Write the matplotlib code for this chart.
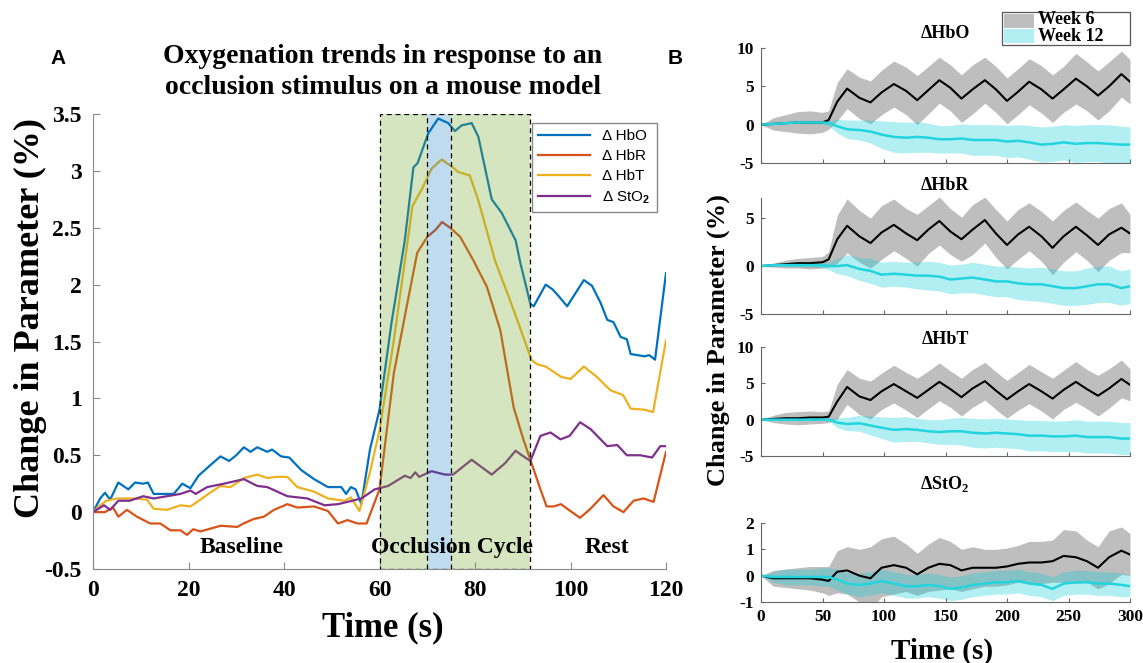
import numpy as np
import matplotlib
matplotlib.use('Agg')
import matplotlib.pyplot as plt
from matplotlib.patches import Rectangle

plt.rcParams['font.family'] = ['Liberation Serif', 'DejaVu Serif']
plt.rcParams['font.weight'] = 'bold'
plt.rcParams['axes.unicode_minus'] = False
plt.rcParams['mathtext.fontset'] = 'custom'
plt.rcParams['mathtext.rm'] = 'Liberation Serif:bold'
plt.rcParams['mathtext.sf'] = 'Liberation Sans'

W, H = 1143, 663

# ---------------- panel A data (time in s, change in %) ----------------
t_hbo = [0, 1.5, 2.5, 3.6, 5.3, 7.4, 8.8, 10.5, 11.5, 12.7, 16.9, 18.7, 20.4, 22.1, 24.5, 26.7,
         28.5, 30, 31.6, 33, 34.4, 36.5, 37.5, 39.4, 41.1, 43.6, 46.3, 49.2, 52, 53, 54, 55, 56.2,
         58, 60, 62.5, 65.3, 67.1, 68, 70.2, 72.3, 74.4, 75.8, 77.2, 79.3, 80.7, 83.5, 85.6, 88.5,
         89.5, 91.6, 92.3, 94.8, 96.2, 97.5, 99.3, 102.8, 104.5, 106.3, 107.7, 109, 110.5, 111.8,
         112.6, 115.5, 116.5, 117.7, 120]
hbo = [0, 0.12, 0.17, 0.11, 0.26, 0.2, 0.26, 0.25, 0.26, 0.16, 0.16, 0.25, 0.21, 0.32, 0.41, 0.49,
       0.45, 0.5, 0.57, 0.53, 0.57, 0.53, 0.55, 0.49, 0.48, 0.37, 0.29, 0.22, 0.22, 0.16, 0.22, 0.2, 0.07,
       0.55, 0.9, 1.66, 2.39, 3.03, 3.07, 3.33, 3.46, 3.42, 3.35, 3.4, 3.42, 3.3, 2.75, 2.63, 2.39,
       2.19, 1.83, 1.81, 2.0, 1.96, 1.9, 1.81, 2.04, 1.99, 1.84, 1.69, 1.67, 1.54, 1.52,
       1.39, 1.37, 1.38, 1.34, 2.1]

t_hbr = [0, 2.5, 4.2, 5.3, 7.1, 9.2, 12, 14.1, 16.2, 18.3, 19.7, 21, 22.5, 26.7, 30.2, 31.5, 33.7,
         35.8, 37.9, 40.7, 42.8, 46.3, 49.2, 51.3, 53.3, 55.4, 57.3, 60, 63, 65.8, 67.9, 70, 71.7,
         73.1, 74.8, 76.9, 79.7, 82.5, 85.3, 88.1, 90.2, 91.6, 93.7, 95, 96.5, 98, 99.3, 102, 104.2,
         106.9, 109, 111.1, 113.2, 115.3, 117.4, 120]
hbr = [0, 0, 0.04, -0.04, 0.02, -0.04, -0.1, -0.1, -0.16, -0.16, -0.2, -0.15, -0.17, -0.12, -0.13, -0.1, -0.06,
       -0.04, 0.02, 0.07, 0.04, 0.05, 0.01, -0.1, -0.07, -0.1, -0.1, 0.2, 1.22, 1.83, 2.28, 2.42, 2.48,
       2.55, 2.5, 2.42, 2.21, 1.98, 1.6, 0.92, 0.63, 0.46, 0.2, 0.05, 0.05, 0.07, 0.03, -0.05, 0.03,
       0.15, 0.05, 0.0, 0.1, 0.12, 0.09, 0.53]

t_hbt = [0, 1.5, 2.8, 5, 8.5, 11.3, 12.7, 15.5, 18.3, 20.4, 22.5, 24.5, 26.7, 28.8, 31.6, 34.4, 36.5,
         38.5, 40.7, 42.8, 46.3, 49.2, 52.7, 54, 55.8, 58, 60, 63, 66.9, 69, 70.9, 73, 75.1, 76.5, 78.9,
         80.7, 84.2, 87, 89.1, 91.8, 93, 94.8, 98, 100, 102.8, 105.5, 108.4, 111, 112.6, 115.5, 117.3, 120]
hbt = [0, 0.06, 0.1, 0.12, 0.12, 0.11, 0.03, 0.02, 0.06, 0.05, 0.11, 0.17, 0.23, 0.22, 0.3, 0.33, 0.3,
       0.31, 0.31, 0.22, 0.18, 0.12, 0.1, 0.13, 0.01, 0.35, 0.72, 1.51, 2.69, 2.85, 3.02, 3.1, 3.04, 2.99, 2.96,
       2.74, 2.21, 1.9, 1.66, 1.34, 1.3, 1.28, 1.19, 1.17, 1.28, 1.19, 1.07, 1.03, 0.91, 0.9, 0.88, 1.51]

t_sto2 = [0, 2.3, 3.6, 5.3, 7.7, 10.5, 12.7, 15.5, 18.3, 20.4, 21.5, 23.9, 27.4, 31.6, 34.4, 36.5,
          40.7, 44.9, 48.5, 51.3, 53.3, 56.2, 59, 61.8, 65.3, 66.5, 67.5, 68.3, 70.9, 73.7, 75.4, 79.3,
          83.5, 86.3, 88.5, 89.8, 91.6, 93.7, 95.8, 97.9, 99.8, 102, 104.2, 107.7, 109.8, 111.8, 114.6,
          117.1, 118.8, 120]
sto2 = [0, 0.06, 0.02, 0.1, 0.1, 0.14, 0.12, 0.14, 0.16, 0.19, 0.16, 0.22, 0.25, 0.29, 0.23, 0.22,
        0.14, 0.12, 0.06, 0.07, 0.09, 0.12, 0.2, 0.23, 0.32, 0.3, 0.35, 0.31, 0.36, 0.33, 0.33, 0.46,
        0.33, 0.43, 0.54, 0.5, 0.45, 0.67, 0.7, 0.64, 0.67, 0.79, 0.73, 0.58, 0.59, 0.5, 0.5,
        0.48, 0.58, 0.58]

occlusion = (60, 91.6)
hold = (70, 75)

# ---------------- panel B data (time in s; mean and band half width) ----------------
t_b = [0, 10, 20, 30, 40, 50, 55, 62, 70, 80, 89, 98, 108, 118, 127, 136, 145, 154, 163, 172,
       182, 191, 200, 209, 218, 228, 237, 246, 256, 265, 274, 283, 293, 300]

hbo_w6 = [0, 0.1, 0.2, 0.3, 0.3, 0.3, 0.6, 3.0, 4.7, 3.5, 2.9, 4.2, 5.3, 4.4, 3.2, 4.5, 5.8, 4.8, 3.4, 4.6,
          5.8, 4.6, 3.1, 4.3, 5.6, 4.6, 3.4, 4.6, 6.0, 5.0, 3.8, 5.0, 6.6, 5.6]
hbo_w6_sd = [0, 0.8, 1.1, 1.4, 1.5, 1.3, 1.2, 2.5, 2.6, 2.7, 2.8, 2.9, 3.0, 3.1, 3.2, 3.1, 3.0, 3.0, 3.1, 3.2,
             3.0, 3.0, 3.0, 3.0, 3.0, 3.1, 3.1, 3.0, 3.3, 3.2, 3.2, 3.2, 3.0, 2.9]
hbo_w12 = [0, 0.1, 0.2, 0.3, 0.3, 0.3, 0.2, -0.2, -0.6, -0.7, -0.9, -1.3, -1.6, -1.7, -1.6, -1.7, -1.9, -1.9,
           -1.8, -2.0, -2.0, -2.0, -2.2, -2.1, -2.3, -2.6, -2.5, -2.3, -2.5, -2.4, -2.4, -2.5, -2.6, -2.6]
hbo_w12_sd = [0, 0.1, 0.1, 0.15, 0.2, 0.2, 0.3, 0.9, 1.2, 1.3, 1.5, 1.8, 2.0, 2.0, 2.0, 1.9, 1.8, 1.8, 1.9,
              2.0, 2.0, 2.0, 2.1, 2.1, 2.2, 2.3, 2.3, 2.3, 2.4, 2.4, 2.4, 2.5, 2.4, 2.3]

hbr_w6 = [0, 0.1, 0.2, 0.3, 0.3, 0.4, 0.7, 2.8, 4.2, 3.1, 2.4, 3.5, 4.3, 3.4, 2.7, 3.8, 4.7, 3.6, 2.8, 3.8,
          4.8, 3.4, 2.2, 3.3, 4.1, 3.1, 1.9, 3.1, 4.1, 3.2, 2.2, 3.3, 4.0, 3.4]
hbr_w6_sd = [0, 0.2, 0.4, 0.5, 0.6, 0.6, 0.8, 2.5, 2.8, 2.7, 2.6, 2.8, 2.7, 2.6, 2.7, 2.5, 2.5, 2.4, 2.3, 2.6,
             2.4, 2.5, 2.5, 2.6, 2.5, 2.6, 2.8, 2.7, 2.6, 2.6, 2.8, 2.7, 2.6, 2.0]
hbr_w12 = [0, 0.1, 0.1, 0.1, 0.1, 0.1, 0.0, 0.0, 0.1, -0.3, -0.5, -0.9, -0.8, -0.9, -1.0, -1.0, -1.1, -1.4,
           -1.3, -1.2, -1.4, -1.6, -1.6, -1.8, -1.9, -1.9, -2.1, -2.3, -2.3, -2.1, -1.9, -1.9, -2.3, -2.1]
hbr_w12_sd = [0, 0.1, 0.15, 0.2, 0.2, 0.3, 0.4, 0.8, 1.1, 1.2, 1.3, 1.3, 1.3, 1.3, 1.4, 1.5, 1.5, 1.5, 1.5,
              1.6, 1.6, 1.6, 1.6, 1.7, 1.7, 1.8, 1.8, 1.8, 1.8, 1.9, 1.9, 1.9, 1.8, 1.8]

hbt_w6 = [0, 0.1, 0.2, 0.2, 0.3, 0.3, 0.4, 2.5, 4.5, 3.2, 2.7, 3.9, 4.9, 3.9, 3.0, 4.1, 5.2, 4.2, 3.1, 4.3,
          5.3, 4.0, 2.8, 3.9, 4.9, 3.9, 2.9, 4.1, 5.2, 4.2, 3.3, 4.3, 5.6, 4.8]
hbt_w6_sd = [0, 0.5, 0.8, 0.9, 0.9, 0.8, 0.8, 2.4, 2.4, 2.5, 2.6, 2.5, 2.6, 2.6, 2.7, 2.6, 2.6, 2.5, 2.6, 2.6,
             2.6, 2.6, 2.6, 2.6, 2.7, 2.7, 2.8, 2.7, 2.8, 2.7, 2.8, 2.7, 2.6, 2.2]
hbt_w12 = [0, 0.0, 0.0, 0.0, 0.0, 0.0, 0.0, -0.4, -0.6, -0.5, -0.8, -1.1, -1.4, -1.3, -1.4, -1.6, -1.7, -1.6,
           -1.6, -1.8, -1.9, -1.8, -1.9, -2.0, -2.2, -2.2, -2.3, -2.3, -2.2, -2.4, -2.4, -2.4, -2.6, -2.6]
hbt_w12_sd = [0, 0.1, 0.1, 0.1, 0.1, 0.1, 0.2, 0.7, 0.9, 1.1, 1.3, 1.5, 1.7, 1.7, 1.6, 1.6, 1.7, 1.8, 1.9,
              2.0, 2.0, 2.0, 2.0, 2.0, 2.1, 2.1, 2.1, 2.1, 2.2, 2.2, 2.2, 2.2, 2.2, 2.2]

sto2_w6 = [0, -0.1, -0.1, -0.1, -0.1, -0.15, -0.2, 0.15, 0.2, 0.0, -0.1, 0.3, 0.4, 0.3, 0.05, 0.3, 0.45,
           0.4, 0.2, 0.3, 0.3, 0.3, 0.35, 0.45, 0.5, 0.5, 0.55, 0.75, 0.7, 0.55, 0.3, 0.7, 0.95, 0.8]
sto2_w6_sd = [0, 0.3, 0.35, 0.4, 0.45, 0.5, 0.55, 0.8, 0.9, 1.0, 1.2, 1.1, 1.1, 0.9, 0.8, 0.9, 1.0, 0.9,
              0.8, 0.8, 0.7, 0.7, 0.7, 0.7, 0.8, 0.8, 0.8, 1.0, 1.0, 0.8, 0.8, 1.0, 0.9, 0.8]
sto2_w12 = [0, -0.05, -0.05, -0.05, -0.05, -0.05, -0.05, -0.15, -0.3, -0.35, -0.3, -0.2, -0.3, -0.4, -0.4,
            -0.35, -0.4, -0.5, -0.45, -0.35, -0.3, -0.25, -0.25, -0.2, -0.3, -0.35, -0.5, -0.3, -0.25,
            -0.25, -0.3, -0.3, -0.35, -0.4]
sto2_w12_sd = [0, 0.2, 0.3, 0.3, 0.3, 0.35, 0.35, 0.4, 0.4, 0.45, 0.45, 0.45, 0.45, 0.45, 0.45, 0.45, 0.45,
               0.45, 0.45, 0.45, 0.45, 0.45, 0.45, 0.45, 0.45, 0.45, 0.45, 0.45, 0.45, 0.45, 0.45, 0.45,
               0.45, 0.4]

fig = plt.figure(figsize=(W / 100, H / 100), dpi=100)


def px_axes(x0, y0, x1, y1):
    # pixel box (top-left origin) -> figure axes
    return fig.add_axes([x0 / W, 1 - y1 / H, (x1 - x0) / W, (y1 - y0) / H])


def px_text(x, y, s, **kw):
    fig.text(x / W, 1 - y / H, s, ha=kw.pop('ha', 'center'), va=kw.pop('va', 'center'), **kw)


# ---------------- panel A ----------------
ax = px_axes(93, 114, 666, 569)
ax.plot(t_hbo, hbo, color='#0072BD', lw=1.6, label='Δ HbO')
ax.plot(t_hbr, hbr, color='#D95319', lw=1.6, label='Δ HbR')
ax.plot(t_hbt, hbt, color='#EDB120', lw=1.6, label='Δ HbT')
ax.plot(t_sto2, sto2, color='#7E2F8E', lw=1.6, label=r'Δ StO$_\mathsf{2}$')

green = (119 / 255, 172 / 255, 48 / 255)
blue = (0, 114 / 255, 189 / 255)
ax.axvspan(occlusion[0], hold[0], color=green, alpha=0.3, lw=0, zorder=3)
ax.axvspan(hold[1], occlusion[1], color=green, alpha=0.3, lw=0, zorder=3)
ax.axvspan(hold[0], hold[1], color=blue, alpha=0.25, lw=0, zorder=3)
ax.add_patch(Rectangle((occlusion[0], -0.5), occlusion[1] - occlusion[0], 4.0, fill=False,
                       ls=(0, (4, 3)), lw=0.9, ec='black', zorder=4))
for xv in hold:
    ax.plot([xv, xv], [-0.5, 3.5], ls=(0, (4, 3)), lw=0.9, color='black', zorder=4)

ax.set_xlim(0, 120)
ax.set_ylim(-0.5, 3.5)
ax.set_xticks(range(0, 121, 20))
ax.set_yticks([-0.5, 0, 0.5, 1, 1.5, 2, 2.5, 3, 3.5])
ax.set_yticklabels(['-0.5', '0', '0.5', '1', '1.5', '2', '2.5', '3', '3.5'])
ax.tick_params(direction='in', length=5, color='#888888', labelsize=17, pad=8)
for s in ['top', 'right']:
    ax.spines[s].set_visible(False)
for s in ['left', 'bottom']:
    ax.spines[s].set_color('#888888')

ax.text(31.2, -0.31, 'Baseline', ha='center', va='center', fontsize=17, zorder=6)
ax.text(75.2, -0.31, 'Occlusion Cycle', ha='center', va='center', fontsize=17, zorder=6)
ax.text(107.6, -0.31, 'Rest', ha='center', va='center', fontsize=17, zorder=6)

leg = ax.legend(loc='upper right', bbox_to_anchor=(0.984, 0.98), borderaxespad=0,
                prop={'family': 'Liberation Sans', 'size': 11, 'weight': 'normal'},
                handlelength=3.4, labelspacing=0.4, fancybox=False, edgecolor='#888888',
                framealpha=1)
leg.set_zorder(7)

px_text(383, 72, 'Oxygenation trends in response to an\nocclusion stimulus on a mouse model',
        fontsize=20, linespacing=1.3)
px_text(383, 628, 'Time (s)', fontsize=25)
px_text(30, 318, 'Change in Parameter (%)', fontsize=26, rotation=90)
px_text(58, 58, 'A', fontsize=15, family='Liberation Sans')
px_text(675, 58, 'B', fontsize=15, family='Liberation Sans')

# ---------------- panel B ----------------
panels = [
    ('ΔHbO', hbo_w6, hbo_w6_sd, hbo_w12, hbo_w12_sd, (-5, 10), [-5, 0, 5, 10], (48, 163), 33),
    ('ΔHbR', hbr_w6, hbr_w6_sd, hbr_w12, hbr_w12_sd, (-5, 7.1), [-5, 0, 5], (198, 314), 185),
    ('ΔHbT', hbt_w6, hbt_w6_sd, hbt_w12, hbt_w12_sd, (-5, 10), [-5, 0, 5, 10], (347, 456), 339),
    (r'ΔStO$_\mathrm{2}$', sto2_w6, sto2_w6_sd, sto2_w12, sto2_w12_sd, (-1, 2), [-1, 0, 1, 2],
     (523, 602), 484),
]
tb = np.array(t_b)
for i, (name, m6, s6, m12, s12, ylim, yt, (ytop, ybot), ytitle) in enumerate(panels):
    bx = px_axes(761, ytop, 1130, ybot)
    m6, s6, m12, s12 = map(np.array, (m6, s6, m12, s12))
    bx.fill_between(tb, m6 - s6, m6 + s6, color='#bebebe', lw=0)
    bx.fill_between(tb, m12 - s12, m12 + s12, color=(0, 205 / 255, 215 / 255), alpha=0.3, lw=0)
    bx.plot(tb, m6, color='black', lw=1.5)
    bx.plot(tb, m12, color='#22d4de', lw=1.8)
    bx.set_xlim(0, 300)
    bx.set_ylim(*ylim)
    bx.set_yticks(yt)
    bx.set_xticks(range(0, 301, 50))
    bx.tick_params(direction='in', length=3, color='#666666', labelsize=12.5, pad=5)
    if i < 3:
        bx.set_xticklabels([])
    for s in ['top', 'right']:
        bx.spines[s].set_visible(False)
    for s in ['left', 'bottom']:
        bx.spines[s].set_color('#666666')
        bx.spines[s].set_linewidth(0.8)
    px_text(945, ytitle, name, fontsize=13)

px_text(942, 651, 'Time (s)', fontsize=21)
px_text(718, 340, 'Change in Parameter (%)', fontsize=19, rotation=90)

# legend of panel B
lax = fig.add_axes([0, 0, 1, 1], zorder=10)
lax.set_xlim(0, W)
lax.set_ylim(H, 0)
lax.axis('off')
lax.add_patch(Rectangle((1002, 12), 128, 33, fill=True, fc='white', ec='#555555', lw=0.9))
lax.add_patch(Rectangle((1004, 14), 30, 14, fc='#bebebe', ec='none'))
lax.add_patch(Rectangle((1004, 29), 30, 14, fc=(0, 205 / 255, 215 / 255), alpha=0.3, ec='none'))
lax.text(1038, 20, 'Week 6', fontsize=13, va='center', ha='left')
lax.text(1038, 36.5, 'Week 12', fontsize=13, va='center', ha='left')

fig.savefig('out.png', dpi=100)
